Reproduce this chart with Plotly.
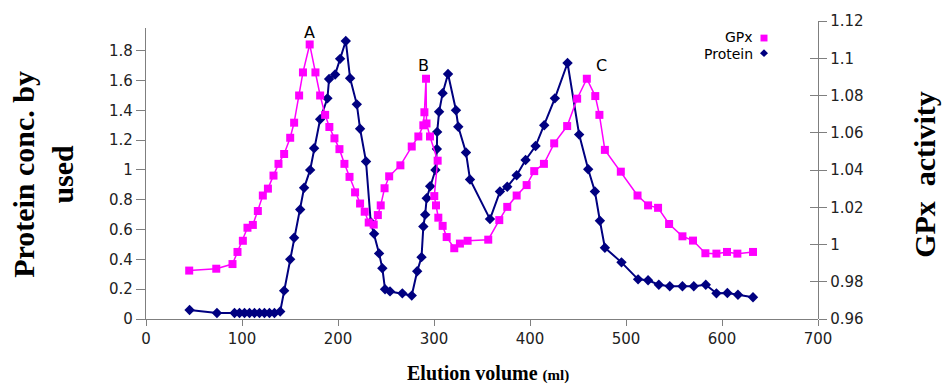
import plotly.graph_objects as go

# ---------------- data ----------------
protein_ml = [45.4, 73.9, 92.2, 97.4, 102.6, 107.8, 113.0, 118.2, 123.4, 128.6, 133.8, 139.8,
              143.9, 150.2, 154.3, 160.6, 164.7, 171.0, 175.1, 181.4, 189.0, 190.7, 197.0,
              202.2, 208.1, 212.6, 219.6, 223.0, 229.2, 234.1, 237.6, 242.8, 246.2, 249.0,
              254.2, 267.0, 276.8, 282.5, 287.0, 288.9, 290.8, 292.4, 296.0, 301.5, 303.0,
              303.3, 305.3, 309.0, 314.6, 322.9, 325.3, 333.3, 337.5, 358.3, 368.7, 376.3,
              386.1, 395.4, 405.8, 414.8, 425.9, 439.1, 451.2, 460.6, 467.6, 472.8, 478.0,
              495.3, 512.6, 523.0, 534.2, 545.6, 558.8, 570.6, 583.1, 594.2, 605.6, 616.6,
              632.3]
protein_conc = [0.06, 0.04, 0.04, 0.04, 0.04, 0.04, 0.04, 0.04, 0.04, 0.04, 0.04, 0.05,
                0.19, 0.40, 0.545, 0.735, 0.88, 1.00, 1.145, 1.34, 1.48, 1.61, 1.64,
                1.745, 1.865, 1.615, 1.44, 1.276, 1.056, 0.65, 0.571, 0.44, 0.34, 0.20,
                0.185, 0.172, 0.157, 0.32, 0.415, 0.62, 0.70, 0.81, 0.89, 1.00, 1.14,
                1.255, 1.39, 1.515, 1.643, 1.40, 1.29, 1.117, 0.936, 0.67, 0.855, 0.887,
                0.964, 1.067, 1.16, 1.30, 1.48, 1.717, 1.237, 1.005, 0.855, 0.659, 0.478,
                0.38, 0.266, 0.26, 0.23, 0.22, 0.22, 0.22, 0.23, 0.172, 0.174, 0.163,
                0.146]

gpx_ml = [45.0, 73.2, 90.1, 95.3, 100.9, 105.7, 111.3, 116.5, 121.7, 127.0, 132.8, 138.0,
          143.9, 150.2, 154.3, 159.5, 163.5, 170.5, 176.5, 181.4, 186.6, 191.0, 196.3,
          201.5, 206.7, 212.0, 217.8, 223.0, 227.8, 232.0, 237.2, 241.5, 244.5, 248.5,
          253.3, 265.0, 276.8, 283.7, 288.9, 290.0, 291.7, 292.2, 295.8, 303.8, 300.3,
          302.1, 304.5, 309.0, 313.2, 321.1, 327.0, 335.0, 356.5, 368.0, 376.3, 386.1,
          396.5, 404.4, 414.5, 425.2, 438.7, 449.1, 459.2, 468.0, 472.3, 478.0, 494.6,
          512.0, 523.0, 533.4, 544.9, 558.8, 569.8, 582.7, 594.2, 605.2, 616.0, 632.3]
gpx_activity = [0.986, 0.987, 0.9895, 0.996, 1.002, 1.009, 1.0105, 1.018, 1.0263, 1.030,
                1.037, 1.0433, 1.0486, 1.0573, 1.0654, 1.080, 1.0924, 1.1074, 1.0924,
                1.080, 1.0696, 1.0631, 1.057, 1.0512, 1.0433, 1.0363, 1.028, 1.022,
                1.0176, 1.0118, 1.0107, 1.0158, 1.021, 1.0302, 1.0366, 1.0425, 1.0526,
                1.058, 1.064, 1.071, 1.089, 1.065, 1.058, 1.045, 1.026, 1.021, 1.0144,
                1.010, 1.004, 0.998, 1.0005, 1.002, 1.0026, 1.0131, 1.0202, 1.0263,
                1.0319, 1.0394, 1.0433, 1.0543, 1.0636, 1.0783, 1.089, 1.0797, 1.0696,
                1.0508, 1.0391, 1.0263, 1.021, 1.0197, 1.011, 1.0044, 1.0021, 0.9953,
                0.9951, 0.996, 0.9951, 0.996]

peak_labels = ["A", "B", "C"]
peak_x = [170.5, 289.0, 474.5]
peak_y = [1.92, 1.70, 1.70]

x_ticks = [0, 100, 200, 300, 400, 500, 600, 700]
left_ticks = [0, 0.2, 0.4, 0.6, 0.8, 1.0, 1.2, 1.4, 1.6, 1.8]
left_ticktext = ["0", "0.2", "0.4", "0.6", "0.8", "1", "1.2", "1.4", "1.6", "1.8"]
right_ticks = [0.96, 0.98, 1.00, 1.02, 1.04, 1.06, 1.08, 1.10, 1.12]
right_ticktext = ["0.96", "0.98", "1", "1.02", "1.04", "1.06", "1.08", "1.1", "1.12"]

# ---------------- figure ----------------
W, H = 946, 385
ML, MR, MT, MB = 146, 128, 13, 66
PW, PH = W - ML - MR, H - MT - MB


def px2paper_x(px):
    return (px - ML) / PW


def px2paper_y(py):
    return (H - MB - py) / PH


MAGENTA = "#FF00FF"
NAVY = "#000080"
AXIS = "#7f7f7f"
TICKFONT = dict(family="DejaVu Sans", size=15, color="#222222")

fig = go.Figure()
fig.add_trace(go.Scatter(
    x=protein_ml, y=protein_conc, name="Protein", xaxis="x", yaxis="y", mode="lines+markers",
    line=dict(color=NAVY, width=2),
    marker=dict(symbol="diamond", size=8, color=NAVY),
    showlegend=False))
fig.add_trace(go.Scatter(
    x=gpx_ml, y=gpx_activity, name="GPx", xaxis="x", yaxis="y2", mode="lines+markers",
    line=dict(color=MAGENTA, width=1.5),
    marker=dict(symbol="square", size=8, color=MAGENTA),
    showlegend=False))
# invisible companion so the inner tick marks of the right axis are drawn
fig.add_trace(go.Scatter(
    x=gpx_ml, y=gpx_activity, xaxis="x", yaxis="y3", mode="lines",
    line=dict(width=0), opacity=0, hoverinfo="skip", showlegend=False))

left_top = px2paper_y(20.5)

fig.update_layout(
    width=W, height=H,
    margin=dict(l=ML, r=MR, t=MT, b=MB, pad=0),
    paper_bgcolor="white", plot_bgcolor="rgba(0,0,0,0)",
    xaxis=dict(range=[0, 700], tickvals=x_ticks, showgrid=False, zeroline=False,
               showline=True, linecolor=AXIS, linewidth=1.3, ticks="outside",
               ticklen=6, tickcolor=AXIS, tickfont=TICKFONT, anchor="y"),
    yaxis=dict(range=[0, 1.95], domain=[0, left_top], tickvals=left_ticks,
               ticktext=left_ticktext, showgrid=False, zeroline=False,
               showline=True, linecolor=AXIS, linewidth=1.3, ticks="outside",
               ticklen=9, tickcolor=AXIS, tickfont=TICKFONT, anchor="x"),
    yaxis2=dict(range=[0.96, 1.12], domain=[0, 1], tickvals=right_ticks,
                ticktext=right_ticktext, side="right", anchor="x",
                showgrid=False, zeroline=False, showline=True, linecolor=AXIS,
                linewidth=1.3, ticks="outside", ticklen=8, tickcolor=AXIS,
                tickfont=TICKFONT),
    yaxis3=dict(range=[0.96, 1.12], overlaying="y2", side="right", anchor="x",
                tickvals=right_ticks, showticklabels=False, showgrid=False,
                zeroline=False, showline=False, ticks="inside", ticklen=8,
                tickcolor=AXIS),
)

annotations = []
for lab, xv, yv in zip(peak_labels, peak_x, peak_y):
    annotations.append(dict(x=xv, y=yv, xref="x", yref="y", text=lab, showarrow=False,
                            font=dict(family="DejaVu Sans", size=16, color="black"),
                            xanchor="center", yanchor="middle"))

# axis titles
annotations.append(dict(x=px2paper_x(43), y=px2paper_y(171), xref="paper", yref="paper",
                        text="<b>Protein conc. by<br>used</b>", textangle=-90,
                        showarrow=False, xanchor="center", yanchor="middle",
                        font=dict(family="Liberation Serif", size=30, color="black")))
annotations.append(dict(x=px2paper_x(925), y=px2paper_y(171), xref="paper", yref="paper",
                        text="<b>GPx\u00a0 activity</b>", textangle=-90,
                        showarrow=False, xanchor="center", yanchor="middle",
                        font=dict(family="Liberation Serif", size=30, color="black")))
annotations.append(dict(x=px2paper_x(488), y=px2paper_y(374), xref="paper", yref="paper",
                        text="<b>Elution volume <span style='font-size:15px'>(ml)</span></b>",
                        showarrow=False, xanchor="center", yanchor="middle",
                        font=dict(family="Liberation Serif", size=20, color="black")))

# legend (text left of symbol)
annotations.append(dict(x=px2paper_x(755), y=px2paper_y(29.5), xref="paper", yref="paper",
                        text="GPx", showarrow=False, xanchor="right", yanchor="middle",
                        font=dict(family="DejaVu Sans", size=14, color="black")))
annotations.append(dict(x=px2paper_x(755), y=px2paper_y(46.5), xref="paper", yref="paper",
                        text="Protein", showarrow=False, xanchor="right", yanchor="middle",
                        font=dict(family="DejaVu Sans", size=14, color="black")))
fig.update_layout(annotations=annotations)

# legend keys as shapes
sq = 3.5
fig.add_shape(type="rect", xref="paper", yref="paper",
              x0=px2paper_x(764 - sq), x1=px2paper_x(764 + sq),
              y0=px2paper_y(30.5 + sq), y1=px2paper_y(30.5 - sq),
              fillcolor=MAGENTA, line=dict(width=0))
cx, cy, d = 764, 46, 4
fig.add_shape(type="path", xref="paper", yref="paper",
              path=(f"M {px2paper_x(cx - d)} {px2paper_y(cy)} "
                    f"L {px2paper_x(cx)} {px2paper_y(cy - d)} "
                    f"L {px2paper_x(cx + d)} {px2paper_y(cy)} "
                    f"L {px2paper_x(cx)} {px2paper_y(cy + d)} Z"),
              fillcolor=NAVY, line=dict(width=0))

fig.write_html("out.html")
